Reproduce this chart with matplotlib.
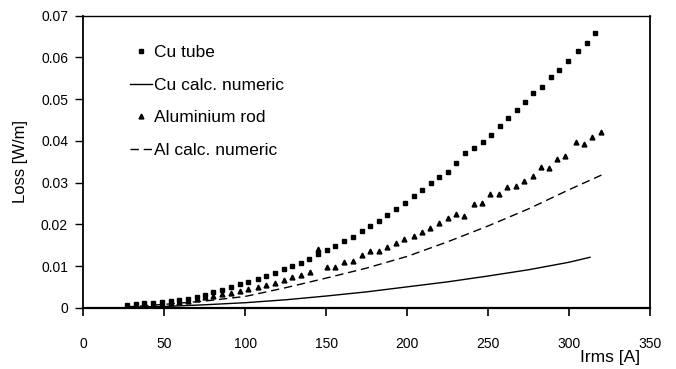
import matplotlib.pyplot as plt

plt.rcParams['font.family'] = ['Liberation Sans', 'DejaVu Sans']

# measured: Cu tube (squares)
cu_tube_i = [27.0, 32.4, 37.5, 43.3, 48.5, 54.1, 59.4, 64.6, 70.1, 75.3,
             80.4, 85.6, 91.3, 96.9, 102.0, 107.6, 113.0, 118.6, 123.9, 129.1,
             134.2, 139.4, 145.1, 150.3, 155.7, 161.2, 166.6, 172.2, 177.3, 182.4,
             187.6, 193.4, 198.5, 204.1, 209.3, 214.6, 220.0, 225.1, 230.5, 235.6,
             241.4, 246.6, 251.7, 257.1, 262.2, 267.6, 272.7, 277.9, 283.5, 288.6,
             294.0, 299.3, 305.5, 310.9, 316.0]
cu_tube_loss = [0.0007, 0.0009, 0.00105, 0.0012, 0.00137, 0.00153, 0.00185, 0.00216, 0.00264, 0.00305,
                0.00377, 0.00424, 0.00504, 0.00561, 0.00609, 0.00681, 0.00753, 0.00825, 0.00921, 0.00993,
                0.01079, 0.01175, 0.01295, 0.01376, 0.01487, 0.01607, 0.01695, 0.01839, 0.01966, 0.02086,
                0.02235, 0.0236, 0.02518, 0.02671, 0.0283, 0.0299, 0.03141, 0.03261, 0.03463, 0.03717,
                0.03823, 0.03981, 0.04134, 0.04357, 0.04542, 0.04741, 0.04926, 0.05149, 0.053, 0.05525,
                0.05707, 0.05923, 0.06156, 0.06355, 0.0658]

# measured: aluminium rod (triangles)
al_rod_i = [27.0, 32.4, 37.5, 43.3, 48.5, 54.1, 59.4, 64.6, 70.1, 75.3,
            80.4, 85.6, 91.3, 96.9, 102.0, 107.6, 113.0, 118.6, 123.9, 129.1,
            134.2, 139.9, 145.1, 150.3, 155.7, 161.2, 166.4, 172.4, 177.3, 182.4,
            187.5, 193.4, 198.3, 204.0, 209.3, 214.4, 219.5, 225.2, 230.5, 235.4,
            241.2, 246.4, 251.5, 256.5, 261.4, 267.4, 272.5, 277.5, 282.4, 287.4,
            292.5, 297.5, 304.4, 309.5, 314.4, 319.5]
al_rod_loss = [0.0004, 0.0005, 0.0006, 0.0008, 0.001, 0.0012, 0.0014, 0.0017, 0.0022, 0.0026,
               0.0029, 0.0032, 0.0036, 0.00408, 0.00448, 0.00504, 0.00552, 0.006, 0.00671, 0.00729,
               0.00777, 0.00856, 0.014, 0.00983, 0.00988, 0.01103, 0.01127, 0.01257, 0.01367, 0.01367,
               0.01456, 0.01547, 0.01655, 0.01731, 0.01827, 0.01923, 0.02036, 0.02151, 0.02242, 0.02206,
               0.02496, 0.02499, 0.02734, 0.02731, 0.02906, 0.02911, 0.03038, 0.03163, 0.03367, 0.03362,
               0.03559, 0.03626, 0.03969, 0.03933, 0.04086, 0.04221]

# calculated curves
cu_calc_i = [27, 50, 75, 100, 125, 150, 175, 200, 225, 250, 275, 300, 313]
cu_calc_loss = [0.0001, 0.0003, 0.0007, 0.0012, 0.0019, 0.0028, 0.0038, 0.0050,
                0.0062, 0.0076, 0.0091, 0.0109, 0.0121]

al_calc_i = [27, 50, 75, 100, 125, 150, 175, 200, 225, 250, 275, 300, 320]
al_calc_loss = [0.0002, 0.0008, 0.0016, 0.0027, 0.0048, 0.0071, 0.0095, 0.0123,
                0.0158, 0.0196, 0.0237, 0.0283, 0.0318]

x_ticks = [0, 50, 100, 150, 200, 250, 300, 350]
y_ticks = [0, 0.01, 0.02, 0.03, 0.04, 0.05, 0.06, 0.07]
y_tick_labels = ['0', '0.01', '0.02', '0.03', '0.04', '0.05', '0.06', '0.07']

fig = plt.figure(figsize=(6.76, 3.69), dpi=100)
ax = fig.add_axes([0.1232, 0.1661, 0.9615 - 0.1232, 0.9572 - 0.1661])

ax.plot(cu_tube_i, cu_tube_loss, 's', color='black', markersize=3.5, label='Cu tube')
ax.plot(cu_calc_i, cu_calc_loss, '-', color='black', linewidth=1.0, label='Cu calc. numeric')
ax.plot(al_rod_i, al_rod_loss, '^', color='black', markersize=3.5, label='Aluminium rod')
ax.plot(al_calc_i, al_calc_loss, color='black', linewidth=1.0,
        linestyle=(0, (6, 3.5)), label='Al calc. numeric')

ax.set_xlim(0, 350)
ax.set_ylim(0, 0.07)
ax.set_xticks(x_ticks)
ax.set_yticks(y_ticks)
ax.set_yticklabels(y_tick_labels)

for s in ax.spines.values():
    s.set_linewidth(1.0)
ax.spines['bottom'].set_linewidth(1.6)
ax.spines['left'].set_linewidth(1.3)
ax.spines['right'].set_linewidth(1.3)

ax.tick_params(axis='x', direction='out', length=6, width=1.2, pad=15, labelsize=10)
ax.tick_params(axis='y', direction='out', length=6, width=1.0, pad=5, labelsize=10)

ax.set_ylabel('Loss [W/m]', fontsize=12, labelpad=9)
fig.text(0.903, 0.012, 'Irms [A]', fontsize=12.5, ha='center', va='bottom')

ax.legend(loc='upper left', bbox_to_anchor=(0.192, 0.878), bbox_transform=fig.transFigure,
          frameon=False, fontsize=12.5, numpoints=1, handlelength=1.3, handletextpad=0.12,
          labelspacing=1.0, borderpad=0, borderaxespad=0)

fig.savefig('out.png', dpi=100)
